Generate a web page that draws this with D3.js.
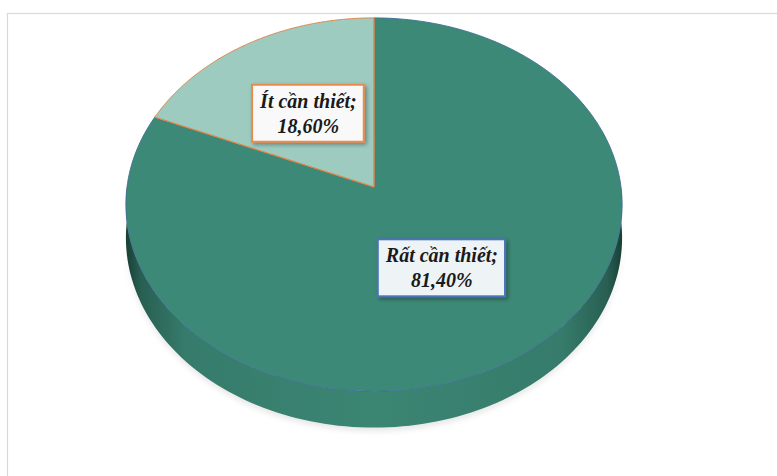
<!DOCTYPE html>
<html>
<head>
<meta charset="utf-8">
<script src="https://cdn.jsdelivr.net/npm/d3@7"></script>
<style>
  html, body { margin: 0; padding: 0; background: #ffffff; }
  svg { display: block; }
</style>
</head>
<body>
<svg id="chart" width="777" height="476"></svg>
<script>
// ---- data ----
const categories = ["Rất cần thiết", "Ít cần thiết"];
const values = [81.4, 18.6];
const valueLabels = ["81,40%", "18,60%"];
const topColors = ["#3d8977", "#9dcbbf"];
const strokeColors = ["#3f6f96", "#e0874a"];
const boxFills = ["#eef3f6", "#f9f9f9"];
const boxStrokes = ["#4a74b8", "#ec8a4b"];

// ---- layout ----
const svg = d3.select("#chart");
const cx = 374, cy = 187;      // projected centre of pie
const A = 247, B = 185, k = 0.094; // perspective ellipse params
const D = 33;                  // side depth

// perspective projection of unit-disc point at clockwise angle a (from 12 o'clock), radius r
function proj(a, r = 1, h = 0) {
  const u = r * Math.sin(a), v = -r * Math.cos(a);
  const s = 1 / (1 - k * v);
  return [cx + A * u * s, cy + B * v * s + h * s];
}

const defs = svg.append("defs");
const sideGrad = defs.append("linearGradient").attr("id", "sideGrad")
  .attr("x1", "0%").attr("x2", "100%").attr("y1", "0%").attr("y2", "0%");
[["0%", "#183f36"], ["3%", "#285f52"], ["12%", "#367b6b"], ["50%", "#3b8573"],
 ["88%", "#367b6b"], ["97%", "#285f52"], ["100%", "#183f36"]]
  .forEach(([o, c]) => sideGrad.append("stop").attr("offset", o).attr("stop-color", c));

const shadow = defs.append("filter").attr("id", "shadow")
  .attr("x", "-20%").attr("y", "-20%").attr("width", "150%").attr("height", "160%");
shadow.append("feDropShadow").attr("dx", 2).attr("dy", 2).attr("stdDeviation", 2)
  .attr("flood-color", "#000").attr("flood-opacity", 0.35);

const pieShadow = defs.append("filter").attr("id", "pieShadow")
  .attr("x", "-10%").attr("y", "-10%").attr("width", "120%").attr("height", "130%");
pieShadow.append("feGaussianBlur").attr("stdDeviation", 3);

// frame
svg.append("rect").attr("x", 7.5).attr("y", 13.5).attr("width", 820).attr("height", 520)
  .attr("fill", "#ffffff").attr("stroke", "#d9d9d9").attr("stroke-width", 1.2);

const pie = d3.pie().sort(null).value(d => d)(values);

function arcPoints(a0, a1, r, h, n) {
  const pts = [];
  for (let i = 0; i <= n; i++) pts.push(proj(a0 + (a1 - a0) * i / n, r, h));
  return pts;
}

// soft shadow below the pie
{
  const bottom = arcPoints(Math.PI / 2, 3 * Math.PI / 2, 1, D + 3, 80);
  svg.append("path")
    .attr("d", d3.line()(bottom.concat(arcPoints(3 * Math.PI / 2, Math.PI / 2, 1, D - 6, 80))) + "Z")
    .attr("fill", "#000").attr("opacity", 0.1).attr("filter", "url(#pieShadow)");
}

// side (front wall) — only the part of slices visible between right and left silhouette
pie.forEach((p, i) => {
  const a0 = Math.max(p.startAngle, Math.PI / 2);
  const a1 = Math.min(p.endAngle, 3 * Math.PI / 2);
  if (a1 <= a0) return;
  const top = arcPoints(a0, a1, 1, 0, 120);
  const bot = arcPoints(a1, a0, 1, D, 120);
  svg.append("path")
    .attr("d", d3.line()(top.concat(bot)) + "Z")
    .attr("fill", i === 0 ? "url(#sideGrad)" : "#7fb0a4")
    .attr("stroke", "none");
});

// top faces
pie.forEach((p, i) => {
  const pts = [[cx, cy]].concat(arcPoints(p.startAngle, p.endAngle, 1, 0, 200));
  svg.append("path")
    .attr("d", d3.line()(pts) + "Z")
    .attr("fill", topColors[i])
    .attr("stroke", strokeColors[i])
    .attr("stroke-width", i === 0 ? 0.9 : 1)
    .attr("stroke-linejoin", "round");
});
// shared radial edges in orange (light slice border on top)
pie.slice(1).forEach(p => {
  const pts = [proj(p.startAngle), [cx, cy], proj(p.endAngle)];
  svg.append("path").attr("d", d3.line()(pts)).attr("fill", "none")
    .attr("stroke", strokeColors[1]).attr("stroke-width", 1);
});

// labels
pie.forEach((p, i) => {
  const mid = (p.startAngle + p.endAngle) / 2;
  const [lx, ly] = proj(mid, 0.5);
  const g = svg.append("g").attr("transform", `translate(${lx - (i === 0 ? 3 : 0)},${ly})`);
  const rect = g.append("rect");
  const t = g.append("text")
    .attr("text-anchor", "middle")
    .attr("font-family", "'Liberation Serif', 'DejaVu Serif', serif")
    .attr("font-style", "italic")
    .attr("font-weight", "bold")
    .attr("font-size", 20)
    .attr("fill", "#1a1a1a");
  t.append("tspan").attr("x", 0).attr("y", -5).text(categories[i] + ";");
  t.append("tspan").attr("x", 0).attr("y", 20).text(valueLabels[i]);
  const bb = t.node().getBBox();
  const padX = 7, padY = 5;
  rect.attr("x", bb.x - padX).attr("y", bb.y - padY)
    .attr("width", bb.width + 2 * padX).attr("height", bb.height + 2 * padY)
    .attr("fill", boxFills[i]).attr("stroke", boxStrokes[i]).attr("stroke-width", 2)
    .attr("filter", "url(#shadow)");
});
</script>
</body>
</html>
